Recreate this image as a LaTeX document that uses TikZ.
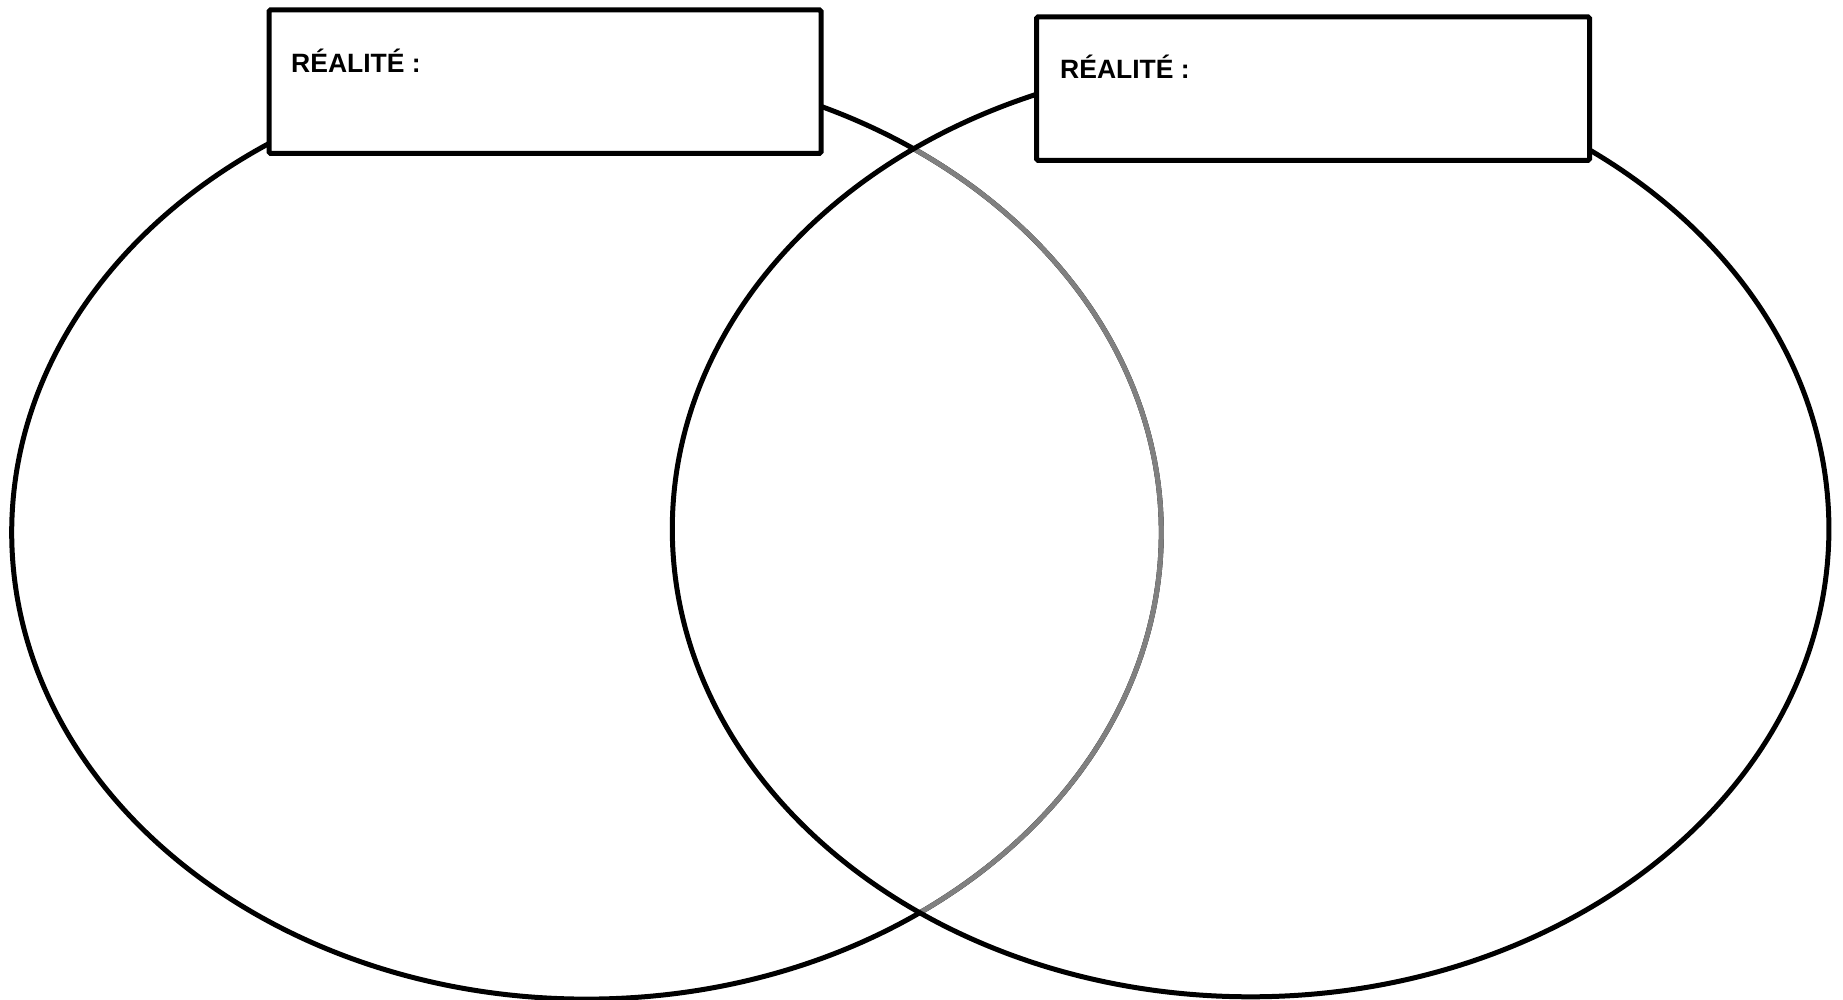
\documentclass[tikz,border=0pt]{standalone}
\usepackage{fontspec}
\setmainfont{Liberation Sans}
\definecolor{midgray}{HTML}{808080}
\tikzset{
  outline/.style={draw=black, line width=5pt},
  grayline/.style={draw=midgray, line width=5pt},
  titlebox/.style={draw=black, fill=white, line width=5pt, rounded corners=1.5pt, rectangle, inner sep=0pt, anchor=north west},
  titletext/.style={font=\bfseries\fontsize{26.5}{30}\selectfont, anchor=base west, inner sep=0pt}
}
\begin{document}
\begin{tikzpicture}[x=1pt,y=-1pt]
\useasboundingbox (0,0) rectangle (1843,1000);
% left ellipse
\draw[outline] (586.5,532.5) ellipse [x radius=574.8, y radius=466.6];
% part of left ellipse inside right ellipse in gray
\begin{scope}
\clip (1250.6,529) ellipse [x radius=578.3, y radius=467.8];
\draw[grayline] (586.5,532.5) ellipse [x radius=574.8, y radius=466.6];
\end{scope}
% right ellipse
\draw[outline] (1250.6,529) ellipse [x radius=578.3, y radius=467.8];
% boxes
\node[titlebox, minimum width=552pt, minimum height=143.4pt] (boxL) at (266.5,7.5) {};
\node[titlebox, minimum width=553pt, minimum height=143.4pt] (boxR) at (1034,14.5) {};
\node[titletext] (textL) at (291,72.5) {RÉALITÉ :};
\node[titletext] (textR) at (1060,78.5) {RÉALITÉ :};
\end{tikzpicture}
\end{document}
